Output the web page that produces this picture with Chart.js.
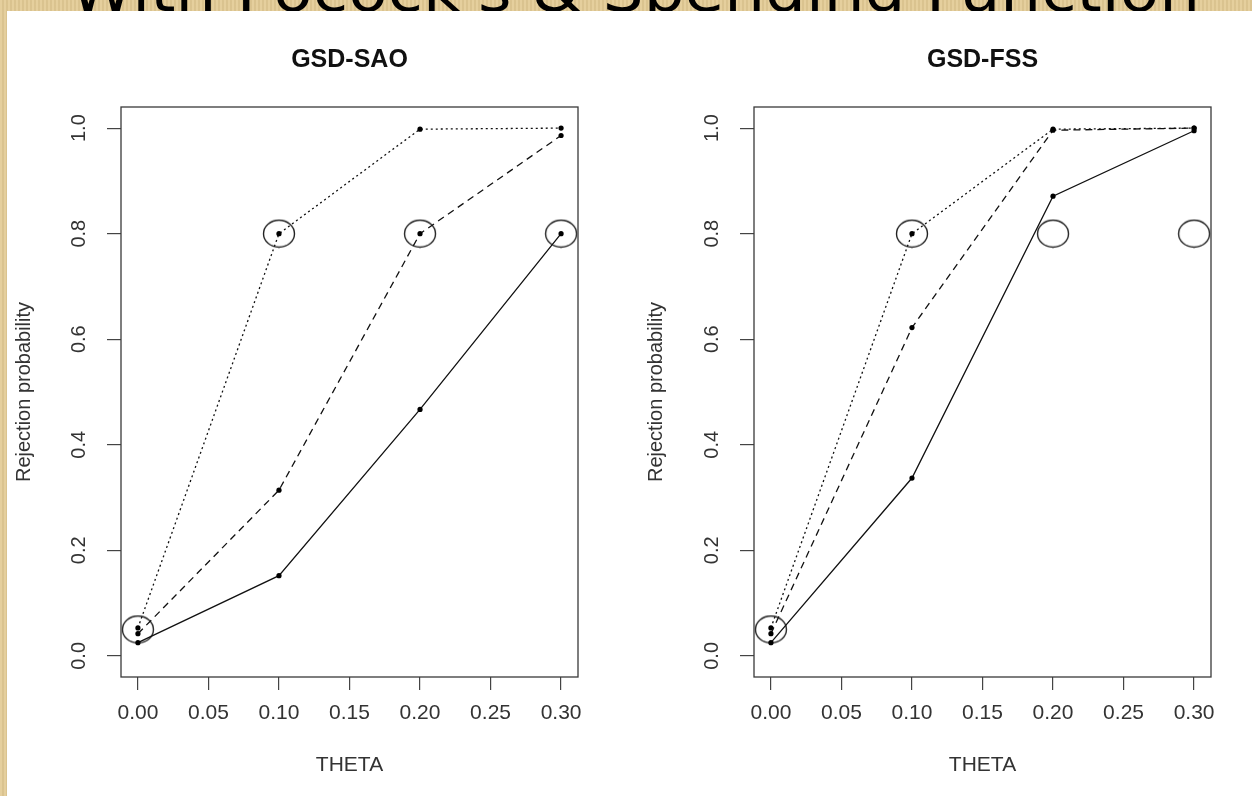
<!DOCTYPE html>
<html>
<head>
<meta charset="utf-8">
<script src="https://cdn.jsdelivr.net/npm/chart.js@4.4.1/dist/chart.umd.min.js"></script>
<style>
  html, body { margin: 0; padding: 0; }
  body {
    width: 1252px; height: 796px; position: relative; overflow: hidden;
    background: #e3cb95;
    background-image: repeating-linear-gradient(90deg, rgba(255,255,255,0.08) 0 2px, rgba(0,0,0,0.04) 2px 4px);
  }
  #heading { position: absolute; left: 0; top: 0; }
  #panel { position: absolute; left: 7px; top: 11px; right: 0; bottom: 0; background: #fff; }
  canvas { position: absolute; top: 0; }
  #chartSAO { left: 0; }
  #chartFSS { left: 633px; }
</style>
</head>
<body>
<svg id="heading" width="1252" height="14">
  <text x="70" y="11" font-family="DejaVu Sans" font-size="60" textLength="1130" lengthAdjust="spacingAndGlyphs" fill="#000">With Pocock's &amp; Spending Function</text>
</svg>
<div id="panel"></div>
<canvas id="chartSAO" width="619" height="796"></canvas>
<canvas id="chartFSS" width="619" height="796"></canvas>
<script>
// values
const theta = [0, 0.1, 0.2, 0.3];
const saoSolid = [0.025, 0.152, 0.467, 0.80];
const saoDashed = [0.042, 0.314, 0.80, 0.986];
const saoDotted = [0.053, 0.80, 0.998, 1.0];
const fssSolid = [0.025, 0.337, 0.871, 0.995];
const fssDashed = [0.042, 0.622, 0.996, 1.0];
const fssDotted = [0.053, 0.80, 0.998, 1.0];
const targetPower = [0.05, 0.8, 0.8, 0.8];

const xTicks = [0, 0.05, 0.10, 0.15, 0.20, 0.25, 0.30];
const xTickLabels = ['0.00', '0.05', '0.10', '0.15', '0.20', '0.25', '0.30'];
const yTicks = [0, 0.2, 0.4, 0.6, 0.8, 1.0];
const yTickLabels = ['0.0', '0.2', '0.4', '0.6', '0.8', '1.0'];

const FONT = "'Liberation Sans', Arial, sans-serif";
const TEXT = '#333';

// open ellipse marker (the reference is slightly stretched sideways)
const ring = document.createElement('canvas');
ring.width = 34; ring.height = 30;
(function () {
    const c = ring.getContext('2d');
    c.strokeStyle = '#222';
    c.lineWidth = 1.4;
    c.beginPath();
    c.ellipse(17, 15, 15.5, 13.5, 0, 0, Math.PI * 2);
    c.stroke();
})();

function pts(ys) {
    return theta.map((x, i) => ({ x: x, y: ys[i] }));
}

function lineSet(ys, dash) {
    return {
        data: pts(ys),
        borderColor: '#111',
        borderWidth: 1.3,
        borderDash: dash,
        pointRadius: 2.6,
        pointBackgroundColor: '#000',
        pointBorderWidth: 0,
        tension: 0
    };
}

// box, rotated y tick labels and main title, R style
const rFrame = {
    id: 'rFrame',
    afterDraw(chart, args, opts) {
        const { ctx, chartArea: a } = chart;
        const y = chart.scales.y;
        ctx.save();
        ctx.strokeStyle = '#3a3a3a';
        ctx.lineWidth = 1.3;
        ctx.strokeRect(a.left, a.top, a.right - a.left, a.bottom - a.top);

        ctx.fillStyle = TEXT;
        ctx.font = '20px ' + FONT;
        ctx.textAlign = 'center';
        ctx.textBaseline = 'middle';
        yTicks.forEach((v, i) => {
            ctx.save();
            ctx.translate(opts.labelX, y.getPixelForValue(v));
            ctx.rotate(-Math.PI / 2);
            ctx.fillText(yTickLabels[i], 0, 0);
            ctx.restore();
        });

        ctx.fillStyle = '#111';
        ctx.font = 'bold 25px ' + FONT;
        ctx.fillText(opts.title, (a.left + a.right) / 2, 60);
        ctx.restore();
    }
};

function makeChart(id, title, solid, dashed, dotted, yTitleGap) {
    const ctx = document.getElementById(id).getContext('2d');
    return new Chart(ctx, {
        type: 'line',
        data: {
            datasets: [
                lineSet(solid, []),
                lineSet(dashed, [7, 5]),
                lineSet(dotted, [2, 3]),
                {
                    data: pts(targetPower),
                    showLine: false,
                    pointStyle: ring,
                    pointRadius: 15,
                    clip: false
                }
            ]
        },
        options: {
            responsive: false,
            animation: false,
            devicePixelRatio: 1,
            layout: { padding: { left: 0, top: 107, right: 41, bottom: 0 } },
            scales: {
                x: {
                    type: 'linear',
                    min: -0.012,
                    max: 0.312,
                    afterBuildTicks: s => { s.ticks = xTicks.map(v => ({ value: v })); },
                    afterFit: s => { s.height = 796 - 677; },
                    border: { display: false },
                    grid: { drawOnChartArea: false, tickLength: 13, color: '#444', lineWidth: 1.2 },
                    ticks: {
                        autoSkip: false, maxRotation: 0, padding: 11,
                        color: TEXT, font: { family: FONT, size: 21 },
                        callback: (v, i) => xTickLabels[i]
                    },
                    title: {
                        display: true, text: 'THETA', color: TEXT,
                        font: { family: FONT, size: 21 },
                        padding: { top: 0, bottom: 18 }
                    }
                },
                y: {
                    min: -0.04,
                    max: 1.04,
                    afterBuildTicks: s => { s.ticks = yTicks.map(v => ({ value: v })); },
                    afterFit: s => { s.width = 121; },
                    border: { display: false },
                    grid: { drawOnChartArea: false, tickLength: 14, color: '#444', lineWidth: 1.2 },
                    ticks: { color: 'rgba(0,0,0,0)', font: { size: 1 } },
                    title: {
                        display: true, text: 'Rejection probability', color: TEXT,
                        font: { family: FONT, size: 20 },
                        padding: { top: yTitleGap, bottom: 0 }
                    }
                }
            },
            plugins: {
                legend: { display: false },
                tooltip: { enabled: false },
                rFrame: { title: title, labelX: 79 }
            }
        },
        plugins: [rFrame]
    });
}

makeChart('chartSAO', 'GSD-SAO', saoSolid, saoDashed, saoDotted, 12);
makeChart('chartFSS', 'GSD-FSS', fssSolid, fssDashed, fssDotted, 11);
</script>
</body>
</html>
